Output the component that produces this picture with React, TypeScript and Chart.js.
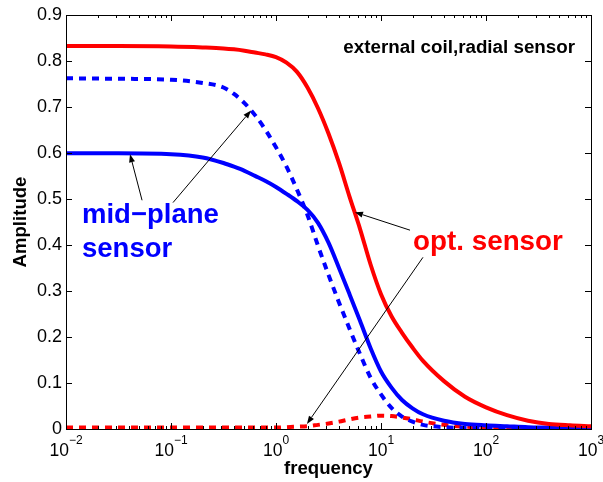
import React, { useEffect, useRef } from "react";
import { Chart, registerables } from "chart.js";

Chart.register(...registerables);

// frequency samples (log-spaced)
const frequency = [
  0.01, 0.0316, 0.1, 0.2, 0.316, 0.398, 0.501, 0.631, 0.794, 1, 1.259, 1.585, 1.995, 2.512,
  3.162, 3.981, 5.012, 6.31, 7.943, 10, 12.59, 15.85, 19.95, 25.12, 39.81, 63.1, 100, 158.5,
  251.2, 398.1, 631, 1000,
];

// red solid: opt. sensor
const optSolid = [
  0.832, 0.832, 0.831, 0.829, 0.827, 0.825, 0.822, 0.818, 0.814, 0.808, 0.796, 0.776, 0.742,
  0.697, 0.642, 0.578, 0.505, 0.435, 0.358, 0.293, 0.245, 0.209, 0.177, 0.148, 0.104, 0.07,
  0.047, 0.03, 0.018, 0.011, 0.008, 0.006,
];

// blue dashed: mid-plane sensor (second)
const midDashed = [
  0.762, 0.761, 0.759, 0.752, 0.742, 0.728, 0.708, 0.682, 0.65, 0.612, 0.57, 0.52, 0.465,
  0.398, 0.335, 0.275, 0.218, 0.163, 0.112, 0.075, 0.046, 0.027, 0.016, 0.009, 0.004, 0.002,
  0.001, 0.001, 0.0, 0.0, 0.0, 0.0,
];

// blue solid: mid-plane sensor
const midSolid = [
  0.599, 0.599, 0.597, 0.59, 0.578, 0.57, 0.561, 0.55, 0.539, 0.526, 0.511, 0.495, 0.476, 0.448,
  0.405, 0.35, 0.293, 0.235, 0.176, 0.125, 0.09, 0.063, 0.045, 0.032, 0.018, 0.011, 0.008,
  0.006, 0.004, 0.003, 0.002, 0.002,
];

// red dashed: opt. sensor (second)
const optDashed = [
  0.003, 0.003, 0.003, 0.003, 0.003, 0.003, 0.003, 0.003, 0.003, 0.003, 0.004, 0.005, 0.006,
  0.009, 0.012, 0.016, 0.021, 0.025, 0.027, 0.029, 0.028, 0.025, 0.021, 0.016, 0.009, 0.005,
  0.003, 0.002, 0.001, 0.001, 0.001, 0.001,
];

const xTickExponents = [-2, -1, 0, 1, 2, 3];
const yTickValues = [0, 0.1, 0.2, 0.3, 0.4, 0.5, 0.6, 0.7, 0.8, 0.9];

// annotations in data coordinates
const arrowFrom: [number, number][] = [
  [0.053, 0.497],
  [0.1045, 0.492],
  [18.9, 0.432],
  [25.1, 0.373],
];
const arrowTo: [number, number][] = [
  [0.0407, 0.597],
  [0.578, 0.692],
  [5.65, 0.471],
  [1.97, 0.011],
];

const noteTexts = ["external coil,radial sensor", "mid\u2212plane", "sensor", "opt. sensor"];
const noteX = [705, 0.0142, 0.0142, 20.2];
const noteY = [0.816, 0.447, 0.373, 0.388];
const noteColors = ["#000000", "#0000ff", "#0000ff", "#ff0000"];
const noteSizes = [18.8, 27.5, 27.5, 27.8];
const noteAlign: CanvasTextAlign[] = ["right", "left", "left", "left"];

const FONT = "'Liberation Sans', Arial, Helvetica, sans-serif";

const toPoints = (ys: number[]) => frequency.map((f, i) => ({ x: f, y: ys[i] }));

const decorPlugin = {
  id: "decor",
  afterDatasetsDraw(chart: any) {
    const { ctx, scales } = chart;
    const xs = scales.x;
    const ys = scales.y;
    ctx.save();
    ctx.strokeStyle = "#000";
    ctx.fillStyle = "#000";
    ctx.lineWidth = 1;
    for (let i = 0; i < arrowFrom.length; i++) {
      const x0 = xs.getPixelForValue(arrowFrom[i][0]);
      const y0 = ys.getPixelForValue(arrowFrom[i][1]);
      const x1 = xs.getPixelForValue(arrowTo[i][0]);
      const y1 = ys.getPixelForValue(arrowTo[i][1]);
      const ang = Math.atan2(y1 - y0, x1 - x0);
      const L = 8;
      const W = 3;
      const bx = x1 - L * Math.cos(ang);
      const by = y1 - L * Math.sin(ang);
      ctx.beginPath();
      ctx.moveTo(x0, y0);
      ctx.lineTo(bx, by);
      ctx.stroke();
      ctx.beginPath();
      ctx.moveTo(x1, y1);
      ctx.lineTo(bx + W * Math.sin(ang), by - W * Math.cos(ang));
      ctx.lineTo(bx - W * Math.sin(ang), by + W * Math.cos(ang));
      ctx.closePath();
      ctx.fill();
    }
    ctx.textBaseline = "alphabetic";
    for (let i = 0; i < noteTexts.length; i++) {
      ctx.font = `bold ${noteSizes[i]}px ${FONT}`;
      ctx.fillStyle = noteColors[i];
      ctx.textAlign = noteAlign[i];
      ctx.fillText(noteTexts[i], xs.getPixelForValue(noteX[i]), ys.getPixelForValue(noteY[i]));
    }
    ctx.restore();
  },
  afterDraw(chart: any) {
    const { ctx, chartArea, scales } = chart;
    const xs = scales.x;
    const ys = scales.y;
    const left = Math.round(chartArea.left);
    const right = Math.round(chartArea.right);
    const top = Math.round(chartArea.top);
    const bottom = Math.round(chartArea.bottom);
    ctx.save();
    ctx.strokeStyle = "#000";
    ctx.lineWidth = 1;
    ctx.strokeRect(left + 0.5, top + 0.5, right - left, bottom - top);
    ctx.beginPath();
    for (let d = -2; d <= 3; d++) {
      for (let m = 1; m <= 9; m++) {
        const f = m * Math.pow(10, d);
        if (f > 1000.0001) break;
        const px = Math.round(xs.getPixelForValue(f)) + 0.5;
        const len = m === 1 ? 6 : 3;
        ctx.moveTo(px, bottom);
        ctx.lineTo(px, bottom - len);
        ctx.moveTo(px, top);
        ctx.lineTo(px, top + len);
      }
    }
    for (const v of yTickValues) {
      const py = Math.round(ys.getPixelForValue(v)) + 0.5;
      ctx.moveTo(left, py);
      ctx.lineTo(left + 6, py);
      ctx.moveTo(right, py);
      ctx.lineTo(right - 6, py);
    }
    ctx.stroke();

    ctx.fillStyle = "#000";
    ctx.textBaseline = "alphabetic";
    for (const e of xTickExponents) {
      const px = xs.getPixelForValue(Math.pow(10, e));
      const base = "10";
      const exp = e < 0 ? "\u2212" + Math.abs(e) : String(e);
      ctx.font = `17.5px ${FONT}`;
      const wb = ctx.measureText(base).width;
      ctx.font = `12px ${FONT}`;
      const we = ctx.measureText(exp).width;
      const start = px - (wb + we) / 2;
      ctx.textAlign = "left";
      ctx.font = `17.5px ${FONT}`;
      ctx.fillText(base, start, bottom + 27);
      ctx.font = `12px ${FONT}`;
      ctx.fillText(exp, start + wb, bottom + 15);
    }
    ctx.font = `bold 18.6px ${FONT}`;
    ctx.textAlign = "center";
    ctx.fillText("frequency", (left + right) / 2, bottom + 45);
    ctx.save();
    ctx.translate(26, (top + bottom) / 2);
    ctx.rotate(-Math.PI / 2);
    ctx.textBaseline = "alphabetic";
    ctx.fillText("Amplitude", 0, 0);
    ctx.restore();
    ctx.restore();
  },
};

export default function App() {
  const canvasRef = useRef<HTMLCanvasElement | null>(null);

  useEffect(() => {
    if (!canvasRef.current) return;
    const common = {
      pointRadius: 0,
      borderWidth: 4,
      fill: false,
      cubicInterpolationMode: "monotone" as const,
      borderCapStyle: "butt" as const,
    };
    const chart = new Chart(canvasRef.current, {
      type: "line",
      data: {
        datasets: [
          { ...common, label: "opt. sensor", data: toPoints(optSolid), borderColor: "#ff0000" },
          { ...common, label: "mid-plane dashed", data: toPoints(midDashed), borderColor: "#0000ff", borderDash: [7, 6] },
          { ...common, label: "mid-plane sensor", data: toPoints(midSolid), borderColor: "#0000ff" },
          { ...common, label: "opt. dashed", data: toPoints(optDashed), borderColor: "#ff0000", borderDash: [7, 6] },
        ],
      },
      options: {
        animation: false,
        responsive: true,
        maintainAspectRatio: false,
        layout: { padding: { top: 14, right: 12, left: 0, bottom: 0 } },
        plugins: { legend: { display: false }, tooltip: { enabled: false }, title: { display: false } },
        scales: {
          x: {
            type: "logarithmic",
            min: 0.01,
            max: 1000,
            ticks: { display: false },
            grid: { display: false, drawTicks: false },
            border: { display: false },
            afterFit: (s: any) => {
              s.height = 53;
            },
          },
          y: {
            type: "linear",
            min: 0,
            max: 0.9,
            ticks: {
              stepSize: 0.1,
              padding: 4,
              color: "#000",
              font: { family: FONT, size: 18 },
              callback: (v: any) => {
                const n = Number(v);
                return Math.abs(n) < 1e-9 ? "0" : n.toFixed(1);
              },
            },
            grid: { display: false, drawTicks: false },
            border: { display: false },
            afterFit: (s: any) => {
              s.width = 66;
            },
          },
        },
      },
      plugins: [decorPlugin],
    });
    return () => chart.destroy();
  }, []);

  return (
    <div style={{ position: "fixed", left: 0, top: 0, width: 603, height: 482, background: "#fff" }}>
      <canvas ref={canvasRef} />
    </div>
  );
}
